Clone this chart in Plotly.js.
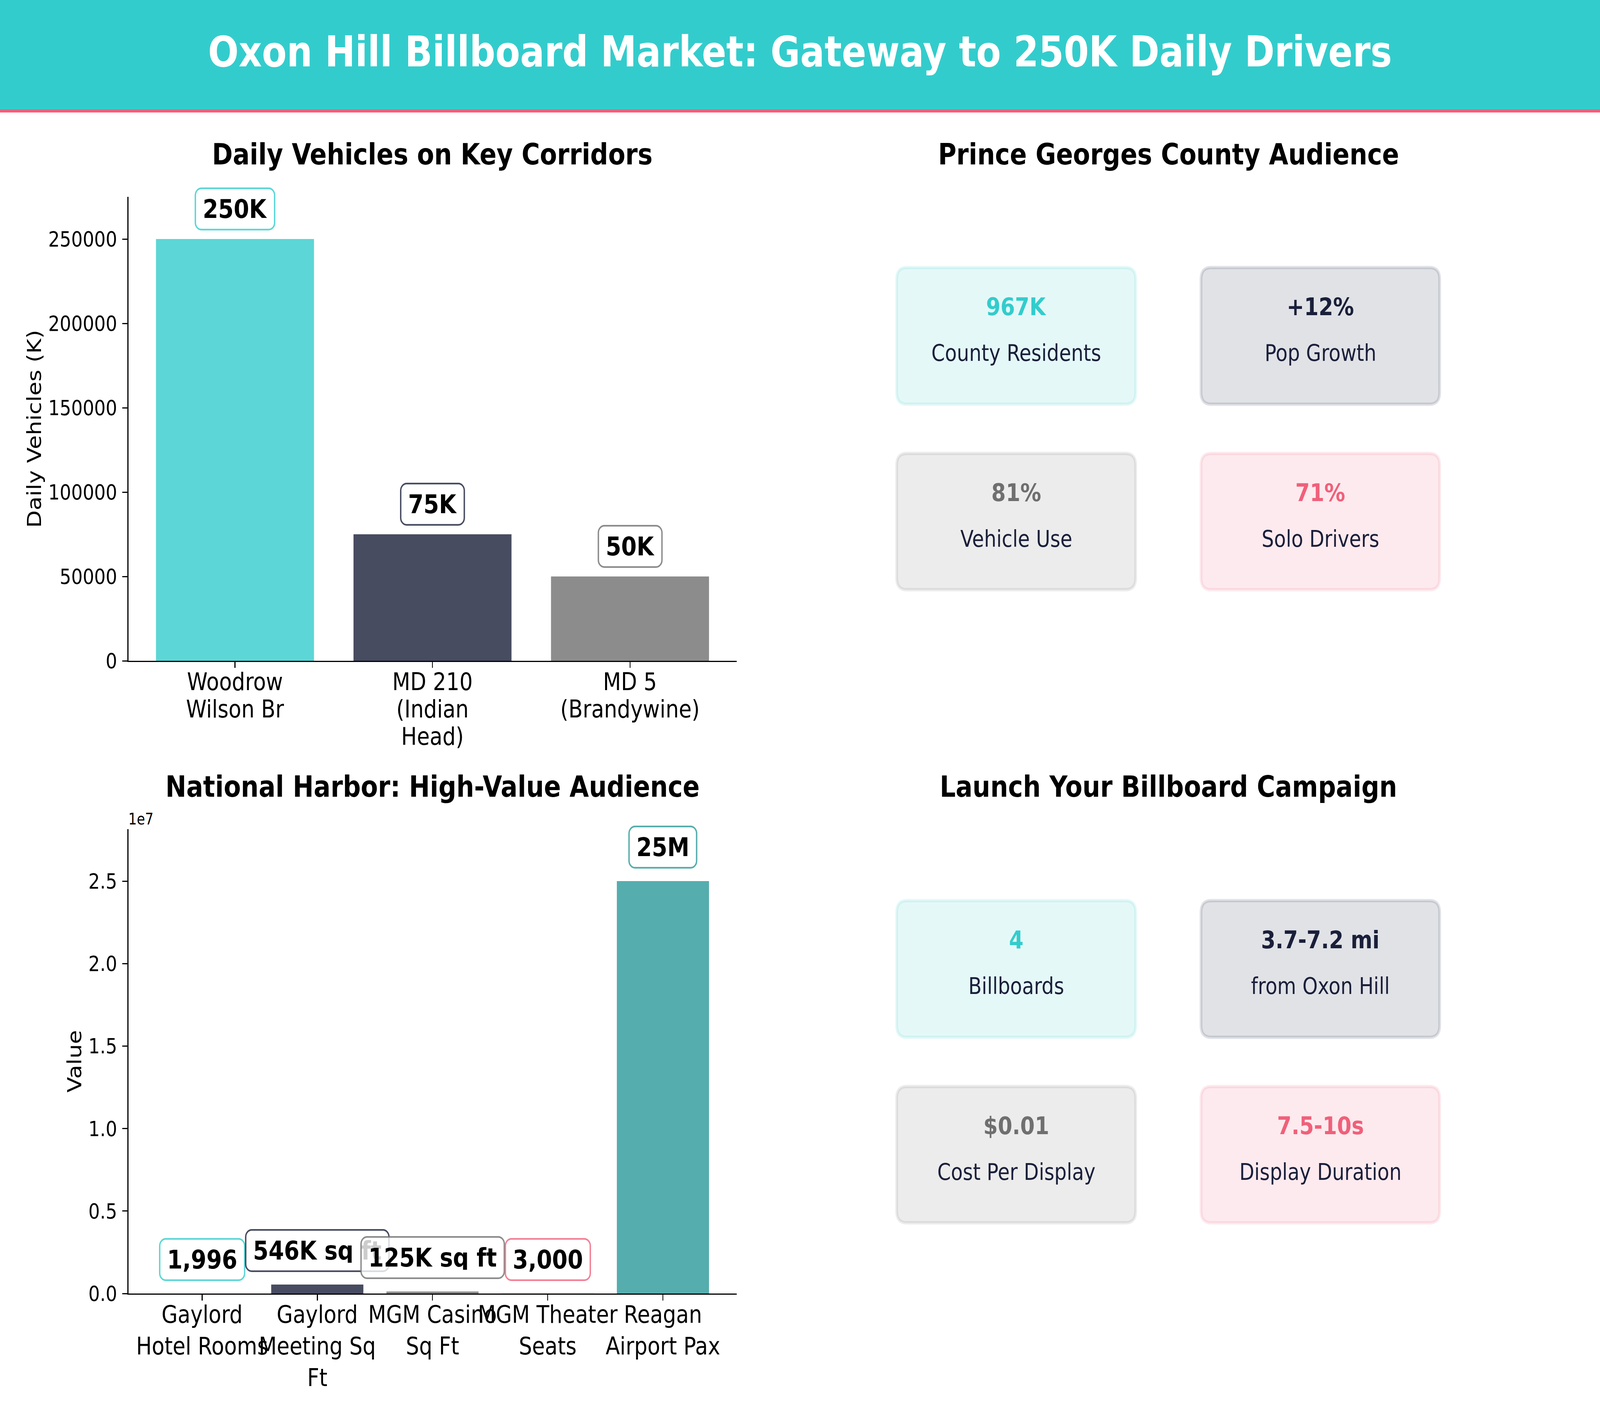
<!DOCTYPE html>
<html><head><meta charset="utf-8">
<script src="https://cdn.plot.ly/plotly-3.0.1.min.js"></script>
<style>html,body{margin:0;padding:0;background:#fff;overflow:hidden}#chart{transform-origin:0 0}</style>
</head><body><div id="chart" style="width:4800px;height:3600px"></div>
<script>
// ---- data ----
const mainTitle = "Oxon Hill Billboard Market: Gateway to 250K Daily Drivers";
const corridorTitle = "Daily Vehicles on Key Corridors";
const corridorCats = ["Woodrow<br>Wilson Br", "MD 210<br>(Indian<br>Head)", "MD 5<br>(Brandywine)"];
const corridorVals = [250000, 75000, 50000];
const corridorLabels = ["250K", "75K", "50K"];
const corridorTicks = [0, 50000, 100000, 150000, 200000, 250000];
const corridorTickText = ["0", "50000", "100000", "150000", "200000", "250000"];
const harborTitle = "National Harbor: High-Value Audience";
const harborCats = ["Gaylord<br>Hotel Rooms", "Gaylord<br>Meeting Sq<br>Ft", "MGM Casino<br>Sq Ft", "MGM Theater<br>Seats", "Reagan<br>Airport Pax"];
const harborVals = [1996, 546000, 125000, 3000, 25000000];
const harborLabels = ["1,996", "546K sq ft", "125K sq ft", "3,000", "25M"];
const harborTicks = [0, 5000000, 10000000, 15000000, 20000000, 25000000];
const harborTickText = ["0.0", "0.5", "1.0", "1.5", "2.0", "2.5"];
const audienceTitle = "Prince Georges County Audience";
const audienceValues = ["967K", "+12%", "81%", "71%"];
const audienceNames = ["County Residents", "Pop Growth", "Vehicle Use", "Solo Drivers"];
const launchTitle = "Launch Your Billboard Campaign";
const launchValues = ["4", "3.7-7.2 mi", "$0.01", "7.5-10s"];
const launchNames = ["Billboards", "from Oxon Hill", "Cost Per Display", "Display Duration"];

// ---- style ----
const W = 4800, H = 3600;
const TEAL = "51,204,204", NAVY = "26,31,58", GREY = "111,111,111", RED = "240,96,122", DTEAL = "44,153,153";
const rgba = (c, a) => `rgba(${c},${a})`;
const FONT = "DejaVu Sans";
const corridorColors = [TEAL, NAVY, GREY];
const harborColors = [TEAL, NAVY, GREY, RED, DTEAL];
const cardColors = [TEAL, NAVY, GREY, RED];
const px = v => v / W, py = v => 1 - v / H;

function axisX(dom, range, cats, anchor) {
  return {domain: [px(dom[0]), px(dom[1])], type: "category", categoryorder: "array", categoryarray: cats,
    range, tickmode: "array", tickvals: cats, ticktext: cats, tickangle: 0, showgrid: false, zeroline: false,
    showline: true, linecolor: "#000", linewidth: 3.33, ticks: "outside", ticklen: 14.6, tickwidth: 3.33, tickcolor: "#000",
    tickfont: {family: FONT, size: 62.5, color: "#000"}, anchor, automargin: false, fixedrange: true, ticklabelstandoff: -18};
}
function axisY(dom, range, vals, text, title, standoff, anchor) {
  return {domain: [py(dom[1]), py(dom[0])], range, tickmode: "array", tickvals: vals, ticktext: text, showgrid: false, zeroline: false,
    showline: true, linecolor: "#000", linewidth: 3.33, ticks: "outside", ticklen: 14.6, tickwidth: 3.33, tickcolor: "#000",
    tickfont: {family: FONT, size: 54.17, color: "#000"}, anchor, automargin: false, fixedrange: true, ticklabelstandoff: 5,
    title: {text: title, standoff, font: {family: FONT, size: 58.3, color: "#000"}}};
}
const XL = [385, 2210];
const traces = [
  {type: "bar", x: corridorCats, y: corridorVals, xaxis: "x", yaxis: "y", hoverinfo: "skip",
   marker: {color: corridorColors.map(c => rgba(c, 0.8)), line: {width: 0}}},
  {type: "bar", x: harborCats, y: harborVals, xaxis: "x2", yaxis: "y2", hoverinfo: "skip",
   marker: {color: harborColors.map(c => rgba(c, 0.8)), line: {width: 0}}}
];

function card(x0, y0, x1, y1, c) {
  const r = 30, X = v => px(v).toFixed(6), Y = v => py(v).toFixed(6);
  const path = `M${X(x0 + r)},${Y(y0)} L${X(x1 - r)},${Y(y0)} Q${X(x1)},${Y(y0)} ${X(x1)},${Y(y0 + r)} L${X(x1)},${Y(y1 - r)} Q${X(x1)},${Y(y1)} ${X(x1 - r)},${Y(y1)} L${X(x0 + r)},${Y(y1)} Q${X(x0)},${Y(y1)} ${X(x0)},${Y(y1 - r)} L${X(x0)},${Y(y0 + r)} Q${X(x0)},${Y(y0)} ${X(x0 + r)},${Y(y0)} Z`;
  return {type: "path", xref: "paper", yref: "paper", path, fillcolor: rgba(c, 0.13), line: {color: rgba(c, 0.13), width: 8.33}, layer: "below"};
}
const shapes = [
  {type: "rect", xref: "paper", yref: "paper", x0: 0, x1: 1, y0: py(280), y1: 1, fillcolor: rgba(TEAL, 1), line: {width: 0}, layer: "below"},
  {type: "rect", xref: "paper", yref: "paper", x0: 0, x1: 1, y0: py(288), y1: py(280), fillcolor: rgba(RED, 1), line: {width: 0}, layer: "below"}
];
const annotations = [];
function paperText(text, x, y, size, color, bold) {
  annotations.push({xref: "paper", yref: "paper", x: px(x), y: py(y), xanchor: "center", yanchor: "middle", showarrow: false,
    text: bold ? `<b>${text}</b>` : text, font: {family: FONT, size, color}});
}
paperText(corridorTitle, 1297, 395, 75, "#000", true);
paperText(harborTitle, 1297, 2014, 75, "#000", true);
paperText(audienceTitle, 3505, 395, 75, "#000", true);
paperText(launchTitle, 3505, 2014, 75, "#000", true);
annotations.push({xref: "paper", yref: "paper", x: px(383), y: py(2097), xanchor: "left", yanchor: "middle", showarrow: false,
  text: "1e7", font: {family: FONT, size: 40, color: "#000"}});

function valueLabels(cats, vals, labels, colors, xa, ya, gap) {
  cats.forEach((c, i) => annotations.push({xref: xa, yref: ya, x: i, y: vals[i], xanchor: "center", yanchor: "bottom", yshift: gap, showarrow: false,
    text: `<b>${labels[i]}</b>`, font: {family: FONT, size: 66.67, color: "#000"}, bgcolor: "rgba(255,255,255,0.8)",
    bordercolor: rgba(colors[i], 0.8), borderwidth: 4.2, borderpad: 20, height: 62}));
}
valueLabels(corridorCats, corridorVals, corridorLabels, corridorColors, "x", "y", 22);
valueLabels(harborCats, harborVals, harborLabels, harborColors, "x2", "y2", 32);

function cards(values, names, dy) {
  const xs = [[2690, 3407], [3603, 4319]], ys = [[685, 1035], [1161, 1510]];
  values.forEach((v, i) => {
    const col = i % 2, row = i >> 1, [x0, x1] = xs[col], [y0, y1] = ys[row];
    shapes.push(card(x0, y0 + dy, x1, y1 + dy, cardColors[i]));
    const cx = (x0 + x1) / 2;
    paperText(v, cx, y0 + dy + 100, 62.5, i === 1 ? rgba(NAVY, 1) : rgba(cardColors[i], 1), true);
    paperText(names[i], cx, y0 + dy + 219, 58.3, rgba(NAVY, 1), false);
  });
}
cards(audienceValues, audienceNames, 0);
cards(launchValues, launchNames, 1621);

const layout = {
  width: W, height: H, margin: {l: 0, r: 0, t: 0, b: 0}, paper_bgcolor: "#fff", plot_bgcolor: "rgba(0,0,0,0)", showlegend: false, bargap: 0.2,
  title: {text: `<b>${mainTitle}</b>`, x: 0.5, xanchor: "center", y: py(132), yanchor: "middle", yref: "paper",
    font: {family: FONT, size: 108.3, color: "#fff"}},
  xaxis: axisX(XL, [-0.54, 2.54], corridorCats, "y"),
  yaxis: axisY([504, 1692], [0, 275000], corridorTicks, corridorTickText, "Daily Vehicles (K)", 3, "x"),
  xaxis2: axisX(XL, [-0.64, 4.64], harborCats, "y2"),
  yaxis2: axisY([2123, 3312], [0, 28150000], harborTicks, harborTickText, "Value", 3, "x2"),
  shapes, annotations
};
Plotly.newPlot("chart", traces, layout, {displayModeBar: false, responsive: false}).then(() => {
  document.querySelectorAll(".annotation rect.bg").forEach(r => { r.setAttribute("rx", 18); r.setAttribute("ry", 18); });
  document.querySelectorAll(".xtick text tspan.line").forEach(t => {
    const d = parseFloat(t.getAttribute("dy")); if (d) t.setAttribute("dy", (d / 1.3 * 1.12) + "em");
  });
  // fit the whole 4800x3600 figure into the window actually provided
  const sx = window.innerWidth / W, sy = window.innerHeight / H;
  document.getElementById("chart").style.transform = `scale(${sx},${sy})`;
});
</script></body></html>
